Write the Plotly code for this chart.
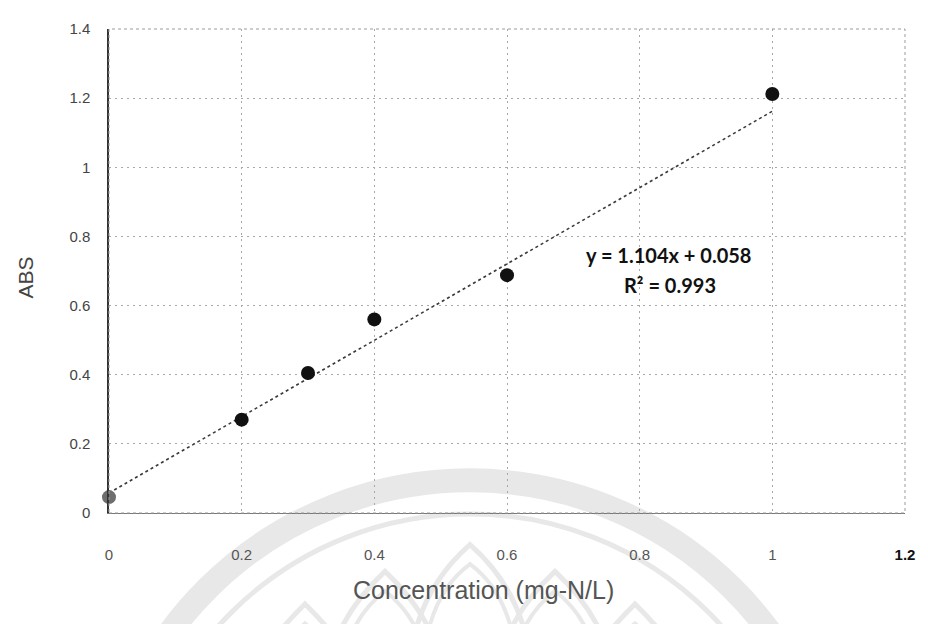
import plotly.graph_objects as go

concentration = [0, 0.2, 0.3, 0.4, 0.6, 1.0]
absorbance = [0.046, 0.27, 0.405, 0.56, 0.688, 1.212]
point_colors = ["#6e6e6e", "#111111", "#111111", "#111111", "#111111", "#111111"]
slope = 1.104
intercept = 0.058
trend_x = [0, 1.0]
trend_y = [slope * x + intercept for x in trend_x]
x_ticks = [0, 0.2, 0.4, 0.6, 0.8, 1.0, 1.2]
x_tick_text = ["0", "0.2", "0.4", "0.6", "0.8", "1", "<b><span style='color:#111'>1.2</span></b>"]
y_ticks = [0, 0.2, 0.4, 0.6, 0.8, 1.0, 1.2, 1.4]
y_tick_text = ["0", "0.2", "0.4", "0.6", "0.8", "1", "1.2", "1.4"]
equation_text = "y = 1.104x + 0.058"
r2_text = "R² = 0.993"

# layout geometry (pixels); the page body adds an 8px offset
OFF = 8
W, H = 920, 616
ML, MR, MT, MB = 101, 23, 16, 111
PW, PH = W - ML - MR, H - MT - MB


def px(xp, yp):
    """page pixel -> paper coords"""
    return (xp - OFF - ML) / PW, (H - MB - (yp - OFF)) / PH


fig = go.Figure()

# faint watermark (ring + lotus petals)
wm = "#e8e8e8"
for r, w in [(370, 24), (336, 5)]:
    x0, y0 = px(470 - r, 850 - r)
    x1, y1 = px(470 + r, 850 + r)
    fig.add_shape(type="circle", xref="paper", yref="paper", x0=x0, y0=y1, x1=x1, y1=y0,
                  line=dict(color=wm, width=w), layer="below")
petals = [(470, 545, 62), (385, 572, 58), (555, 572, 58), (305, 605, 55), (635, 605, 55)]
for ax_, ay_, hw in petals:
    for shrink, wdt in [(0, 5), (14, 4)]:
        base = 690
        xl, yb = px(ax_ - hw + shrink, base)
        xr, _ = px(ax_ + hw - shrink, base)
        xa, ya = px(ax_, ay_ + shrink * 1.4)
        _, ym = px(0, ay_ + 55)
        path = f"M {xl},{yb} Q {xl},{ym} {xa},{ya} Q {xr},{ym} {xr},{yb}"
        fig.add_shape(type="path", xref="paper", yref="paper", path=path,
                      line=dict(color=wm, width=wdt), layer="below")

fig.add_trace(go.Scatter(
    x=trend_x, y=trend_y, mode="lines",
    line=dict(color="#3a3a3a", width=1.6, dash="dot"),
    hoverinfo="skip", showlegend=False))
fig.add_trace(go.Scatter(
    x=concentration, y=absorbance, mode="markers", cliponaxis=False,
    marker=dict(color=point_colors, size=14, line=dict(width=0)),
    showlegend=False))

fig.add_annotation(x=0.843, y=0.745, xref="x", yref="y", showarrow=False,
                   text=f"<b>{equation_text}</b>",
                   font=dict(family="Lato", size=20, color="#111111"))
fig.add_annotation(x=0.846, y=0.66, xref="x", yref="y", showarrow=False,
                   text=f"<b>{r2_text}</b>",
                   font=dict(family="Lato", size=20, color="#111111"))

# axis titles
tx, _ = px(483, 0)
fig.add_annotation(x=tx, y=0, xref="paper", yref="paper", yshift=-77, showarrow=False,
                   text="Concentration (mg-N/L)", xanchor="center", yanchor="middle",
                   font=dict(family="Liberation Sans", size=25, color="#555555"))
ax_t, ay_t = px(25, 275)
fig.add_annotation(x=ax_t, y=ay_t, xref="paper", yref="paper", showarrow=False,
                   text="ABS", textangle=-90, xanchor="center", yanchor="middle",
                   font=dict(family="Liberation Sans", size=21, color="#444444"))

# plot border (dotted)
fig.add_shape(type="rect", xref="paper", yref="paper", x0=0, y0=0, x1=1, y1=1,
              line=dict(color="#9a9a9a", width=1, dash="dot"))

fig.update_layout(
    width=W, height=H,
    margin=dict(l=ML, r=MR, t=MT, b=MB),
    paper_bgcolor="white", plot_bgcolor="rgba(0,0,0,0)",
    font=dict(family="Liberation Sans, Arial", color="#444444"),
)
fig.update_xaxes(
    range=[0, 1.2], tickvals=x_ticks, ticktext=x_tick_text,
    showgrid=True, gridcolor="#a8a8a8", griddash="2px,4px", gridwidth=1,
    zeroline=False, showline=True, linecolor="#777777", linewidth=1,
    ticks="", tickfont=dict(size=15, color="#555555"), ticklabelstandoff=28,
)
fig.update_yaxes(
    range=[0, 1.4], tickvals=y_ticks, ticktext=y_tick_text,
    showgrid=True, gridcolor="#a8a8a8", griddash="2px,4px", gridwidth=1,
    zeroline=False, showline=True, linecolor="#333333", linewidth=1.5,
    ticks="", tickfont=dict(size=15, color="#444444"), ticklabelstandoff=14,
)

fig.write_html("out.html")
